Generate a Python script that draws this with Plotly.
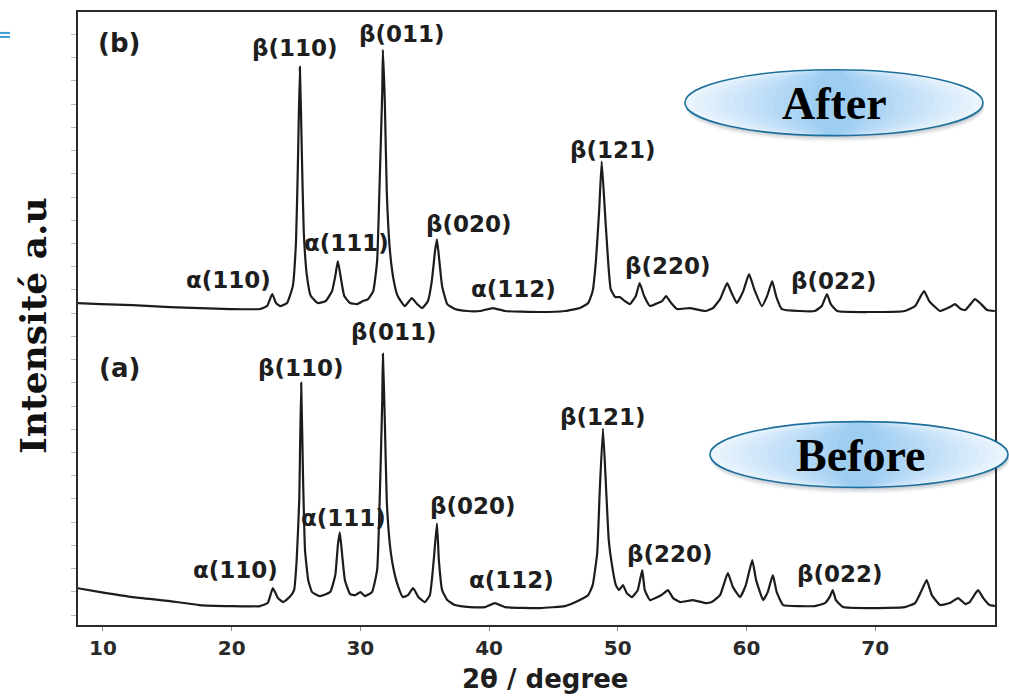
import plotly.graph_objects as go

# ---- XRD patterns: 2θ (degree) and intensity (a.u.) ----
two_theta_a = [8.0, 9.8, 12.3, 15.2, 17.5, 19.9, 22.2, 22.8, 23.2, 23.6, 24.0, 24.5,
               24.85, 25.05, 25.25, 25.4, 25.55, 25.7, 25.95, 26.25, 26.85, 27.65, 28.05,
               28.25, 28.4, 28.55, 28.8, 29.2, 29.6, 30.0, 30.35, 30.9, 31.3, 31.5, 31.7,
               31.75, 31.9, 32.05, 32.3, 32.55, 32.9, 33.3, 33.7, 34.1, 34.5, 35.0, 35.4,
               35.7, 35.95, 36.1, 36.35, 36.75, 37.35, 38.5, 39.7, 40.45, 41.25, 43.95,
               45.9, 46.9, 47.7, 48.05, 48.4, 48.6, 48.85, 49.1, 49.3, 49.55, 49.85, 50.1,
               50.4, 50.7, 51.1, 51.55, 51.9, 52.1, 52.5, 53.1, 53.5, 53.9, 54.3, 54.85,
               55.85, 56.8, 57.3, 57.95, 58.55, 58.95, 59.5, 59.95, 60.45, 60.75, 61.3,
               61.65, 62.05, 62.35, 62.85, 64.15, 65.3, 66.1, 66.5, 66.7, 66.95, 67.5,
               69.6, 72.3, 73.1, 73.55, 74.0, 74.4, 75.05, 75.8, 76.45, 77.0, 77.35,
               77.75, 78.0, 78.4, 78.9, 79.3]
intensity_a = [37, 33, 28, 24, 20, 19, 19, 22, 37, 27, 23, 28,
               35, 65, 125, 243, 145, 75, 45, 33, 29, 33, 50,
               80, 93, 75, 45, 31, 30, 33, 29, 33, 55, 125, 225,
               272, 205, 125, 80, 58, 40, 28, 30, 37, 28, 23, 30,
               65, 102, 65, 35, 25, 20, 18, 18, 22, 18, 17,
               19, 24, 30, 40, 72, 135, 197, 135, 85, 60, 40, 35,
               40, 32, 28, 35, 55, 35, 25, 28, 31, 35, 27, 23,
               25, 22, 23, 30, 52, 38, 28, 40, 65, 45, 25,
               33, 50, 33, 20, 19, 19, 22, 29, 35, 25, 18,
               17, 18, 22, 33, 45, 30, 20, 22, 27, 21, 23,
               31, 35, 27, 20, 19]

two_theta_b = [8.0, 9.8, 12.3, 15.2, 17.5, 19.9, 22.2, 22.75, 23.15, 23.45, 23.75, 24.3,
               24.75, 25.0, 25.15, 25.3, 25.45, 25.6, 25.85, 26.15, 26.7, 27.3, 27.8,
               28.05, 28.25, 28.5, 28.75, 29.2, 29.75, 30.2, 30.6, 31.0, 31.3, 31.5, 31.7,
               31.75, 31.9, 32.05, 32.3, 32.6, 32.9, 33.45, 34.0, 34.4, 34.8, 35.25, 35.55,
               35.8, 35.95, 36.1, 36.35, 36.75, 37.35, 38.3, 39.3, 40.3, 41.25, 43.95,
               45.9, 47.05, 47.7, 48.05, 48.3, 48.55, 48.75, 49.0, 49.25, 49.45, 49.8,
               50.15, 50.55, 50.95, 51.4, 51.7, 52.05, 52.5, 53.1, 53.45, 53.75, 54.15,
               54.6, 55.6, 56.8, 57.4, 57.95, 58.5, 58.85, 59.25, 59.75, 60.2, 60.6,
               61.2, 61.6, 62.0, 62.3, 62.75, 64.15, 65.3, 65.85, 66.25, 66.55, 67.05,
               69.6, 72.3, 73.1, 73.5, 73.8, 74.2, 75.05, 75.8, 76.2, 76.65, 77.0,
               77.35, 77.75, 78.15, 78.7, 79.3]
intensity_b = [33, 32, 31, 29, 28, 27, 27, 30, 42, 33, 30, 33,
               50, 95, 175, 270, 185, 105, 60, 40, 33, 35, 45,
               60, 75, 57, 40, 33, 32, 35, 37, 45, 75, 155, 245,
               287, 235, 145, 85, 55, 40, 30, 38, 32, 28, 35, 55,
               85, 97, 80, 50, 32, 27, 25, 25, 28, 25, 24,
               25, 28, 33, 45, 75, 125, 175, 125, 75, 47, 39,
               39, 35, 32, 40, 53, 40, 30, 33, 35, 40, 33,
               27, 28, 25, 28, 37, 53, 43, 33, 45, 62, 47,
               30, 40, 55, 40, 27, 25, 25, 30, 42, 32, 25,
               24, 25, 30, 39, 45, 35, 25, 29, 32, 27, 26,
               31, 37, 33, 26, 25]

# vertical shift of pattern (b) above pattern (a)
offset_b = 290

x_ticks = [10, 20, 30, 40, 50, 60, 70]

# peak labels: (text, 2θ, intensity position)
labels_b = [("(b)", 11.24, 584), ("β(110)", 24.92, 579), ("β(011)", 33.23, 593),
            ("α(111)", 28.96, 383), ("α(110)", 19.79, 346), ("β(020)", 38.44, 402),
            ("α(112)", 41.93, 337), ("β(121)", 49.63, 477), ("β(220)", 53.90, 360),
            ("β(022)", 66.80, 345)]
labels_a = [("(a)", 11.32, 258), ("β(110)", 25.38, 258), ("β(011)", 32.61, 294),
            ("β(121)", 48.85, 209), ("α(111)", 28.65, 107), ("β(020)", 38.75, 119),
            ("α(110)", 20.26, 55), ("α(112)", 41.78, 45), ("β(220)", 54.06, 71),
            ("β(022)", 67.27, 51)]

W, H = 1009, 700
ML, MR, MT, MB = 78, 14, 10, 75
PW, PH = W - ML - MR, H - MT - MB


def px(xp):
    return (xp - ML) / PW


def py(yp):
    return (H - MB - yp) / PH


fig = go.Figure()
line_style = dict(color="#1c1c1c", width=2.2, shape="spline", smoothing=0.4)
fig.add_trace(go.Scatter(x=two_theta_a, y=intensity_a, mode="lines",
                         line=line_style, name="(a)", showlegend=False))
fig.add_trace(go.Scatter(x=two_theta_b, y=[v + offset_b for v in intensity_b],
                         mode="lines", line=line_style, name="(b)", showlegend=False))

label_font = dict(family="DejaVu Sans", size=23, color="#1e1e1e", weight="bold")
annotations = []
for text, x, y in labels_b + labels_a:
    f = dict(label_font)
    if text.startswith("("):
        f["size"] = 26
    annotations.append(dict(x=x, y=y, xref="x", yref="y", text=text,
                            showarrow=False, font=f, xanchor="center", yanchor="middle"))

# axis titles
annotations.append(dict(x=px(545), y=py(679), xref="paper", yref="paper",
                        xanchor="center", yanchor="middle",
                        text="2θ / degree", showarrow=False,
                        font=dict(family="DejaVu Sans", size=26, color="#1e1e1e",
                                  weight="bold")))
annotations.append(dict(x=px(33), y=py(325), xref="paper", yref="paper",
                        xanchor="center", yanchor="middle",
                        text="Intensité a.u", showarrow=False, textangle=-90,
                        font=dict(family="DejaVu Serif", size=36, color="#111",
                                  weight="bold")))

shapes = []


def badge(cx, cy, rx, ry, text, tx):
    # drop shadow
    for dy, a in [(6, 0.06), (4, 0.10), (2, 0.12)]:
        shapes.append(dict(type="circle", xref="paper", yref="paper",
                           x0=px(cx - rx + 1), x1=px(cx + rx + 1),
                           y0=py(cy + ry + dy), y1=py(cy - ry + dy),
                           fillcolor=f"rgba(40,60,80,{a})", line=dict(width=0)))
    # horizontal gradient made of nested ellipses
    n = 14
    c0 = (234, 244, 253)
    c1 = (158, 205, 242)
    for i in range(n):
        t = i / (n - 1)
        r = rx * (1 - 0.85 * t)
        col = tuple(round(c0[k] + (c1[k] - c0[k]) * t) for k in range(3))
        shapes.append(dict(type="circle", xref="paper", yref="paper",
                           x0=px(cx - r), x1=px(cx + r),
                           y0=py(cy + ry), y1=py(cy - ry),
                           fillcolor="rgb(%d,%d,%d)" % col, line=dict(width=0)))
    shapes.append(dict(type="circle", xref="paper", yref="paper",
                       x0=px(cx - rx), x1=px(cx + rx), y0=py(cy + ry), y1=py(cy - ry),
                       fillcolor="rgba(0,0,0,0)", line=dict(color="#1d6f9b", width=1.6)))
    annotations.append(dict(x=px(tx), y=py(cy + 1), xref="paper", yref="paper",
                            xanchor="center", yanchor="middle",
                            text=text, showarrow=False,
                            font=dict(family="Liberation Serif", size=46, color="#000",
                                      weight="bold")))


badge(834, 101, 149, 33, "After", 834)
badge(859, 454, 149, 33, "Before", 860)

# small blue strokes at the top-left edge
for yy in (31, 35):
    shapes.append(dict(type="line", xref="paper", yref="paper",
                       x0=px(0), x1=px(10), y0=py(yy), y1=py(yy),
                       line=dict(color="#3b9fd6", width=2)))

fig.update_layout(
    width=W, height=H,
    margin=dict(l=ML, r=MR, t=MT, b=MB),
    paper_bgcolor="white", plot_bgcolor="white",
    annotations=annotations, shapes=shapes,
    xaxis=dict(range=[8.06, 79.31], tickvals=x_ticks, ticks="outside", ticklen=4,
               tickcolor="#888", showgrid=False, zeroline=False,
               showline=True, linecolor="#2a2a2a", linewidth=2, mirror=True,
               tickfont=dict(family="DejaVu Sans", size=20, color="#2a2a2a",
                             weight="bold")),
    yaxis=dict(range=[0, 615], tick0=10, dtick=23.3, ticks="outside", ticklen=5,
               tickcolor="#bbb", showticklabels=False, showgrid=False, zeroline=False,
               showline=True, linecolor="#2a2a2a", linewidth=2, mirror=True),
)

fig.write_html("out.html")
